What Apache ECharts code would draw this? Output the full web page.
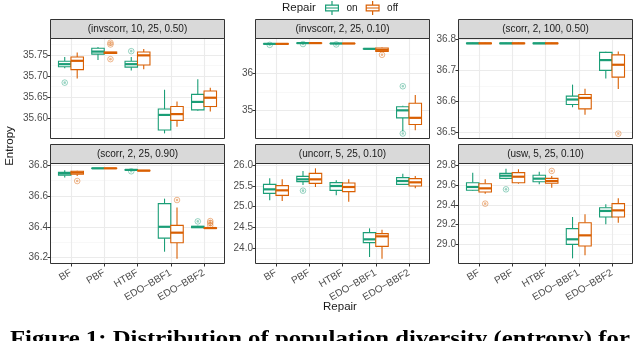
<!DOCTYPE html>
<html>
<head>
<meta charset="utf-8">
<script src="https://cdn.jsdelivr.net/npm/echarts@6/dist/echarts.min.js"></script>
<style>
html, body { margin: 0; padding: 0; background: #fff; }
#chart { width: 640px; height: 341px; }
</style>
</head>
<body>
<div id="chart"></div>
<script>
const categories = ['BF', 'PBF', 'HTBF', 'EDO−BBF1', 'EDO−BBF2']
const panelTitles = [
  '(invscorr, 10, 25, 0.50)', '(invscorr, 2, 25, 0.10)', '(scorr, 2, 100, 0.50)',
  '(scorr, 2, 25, 0.90)', '(uncorr, 5, 25, 0.10)', '(usw, 5, 25, 0.10)'
]

// box rows: [low whisker, q1, median, q3, high whisker], one per category
// outliers: [category index, value]
const p1On = [[35.718, 35.722, 35.728, 35.735, 35.745], [35.738, 35.752, 35.758, 35.766, 35.769], [35.713, 35.721, 35.728, 35.735, 35.745], [35.563, 35.571, 35.607, 35.621, 35.667], [35.617, 35.619, 35.638, 35.656, 35.692]]
const p1Off = [[35.694, 35.715, 35.736, 35.745, 35.756], [35.7535, 35.7535, 35.755, 35.757, 35.757], [35.716, 35.726, 35.749, 35.757, 35.764], [35.579, 35.594, 35.609, 35.627, 35.639], [35.615, 35.627, 35.648, 35.664, 35.672]]
const p1OutOn = [[0, 35.684], [2, 35.759]]
const p1OutOff = [[1, 35.779], [1, 35.775], [1, 35.740]]

const p2On = [[36.786, 36.787, 36.790, 36.792, 36.793], [36.806, 36.807, 36.810, 36.812, 36.813], [36.796, 36.797, 36.800, 36.802, 36.803], [36.653, 36.654, 36.657, 36.659, 36.660], [34.45, 34.81, 35.01, 35.106, 35.13]]
const p2Off = [[36.786, 36.787, 36.790, 36.792, 36.793], [36.806, 36.807, 36.810, 36.812, 36.813], [36.796, 36.797, 36.800, 36.802, 36.803], [36.58, 36.59, 36.63, 36.68, 36.69], [34.48, 34.63, 34.81, 35.20, 35.42]]
const p2OutOn = [[0, 36.763], [1, 36.785], [2, 36.775], [4, 35.655], [4, 34.39]]
const p2OutOff = [[3, 36.497]]

const p3On = [[36.786, 36.787, 36.788, 36.789, 36.790], [36.786, 36.787, 36.788, 36.789, 36.790], [36.786, 36.787, 36.788, 36.789, 36.790], [36.582, 36.591, 36.607, 36.618, 36.655], [36.675, 36.701, 36.734, 36.759, 36.761]]
const p3Off = [[36.786, 36.787, 36.788, 36.789, 36.790], [36.786, 36.787, 36.788, 36.789, 36.790], [36.786, 36.787, 36.788, 36.789, 36.790], [36.558, 36.577, 36.612, 36.623, 36.642], [36.641, 36.679, 36.719, 36.751, 36.762]]
const p3OutOn = []
const p3OutOff = [[4, 36.497]]

const p4On = [[36.718, 36.733, 36.744, 36.752, 36.765], [36.776, 36.777, 36.778, 36.779, 36.780], [36.765, 36.766, 36.768, 36.770, 36.771], [36.239, 36.327, 36.400, 36.550, 36.582], [36.392, 36.394, 36.399, 36.404, 36.407]]
const p4Off = [[36.729, 36.740, 36.750, 36.759, 36.763], [36.776, 36.777, 36.778, 36.779, 36.780], [36.761, 36.762, 36.763, 36.765, 36.766], [36.194, 36.297, 36.362, 36.409, 36.524], [36.388, 36.389, 36.392, 36.394, 36.396]]
const p4OutOn = [[2, 36.759], [4, 36.435]]
const p4OutOff = [[0, 36.696], [3, 36.573], [4, 36.437], [4, 36.425], [4, 36.410]]

const p5On = [[25.152, 25.32, 25.416, 25.536, 25.68], [25.52, 25.60, 25.656, 25.728, 25.856], [25.272, 25.392, 25.496, 25.576, 25.632], [23.792, 24.136, 24.216, 24.376, 24.48], [25.52, 25.536, 25.616, 25.696, 25.792]]
const p5Off = [[25.136, 25.272, 25.392, 25.504, 25.656], [25.472, 25.56, 25.656, 25.80, 25.92], [25.12, 25.36, 25.472, 25.568, 25.656], [23.752, 24.048, 24.288, 24.352, 24.448], [25.44, 25.496, 25.584, 25.672, 25.736]]
const p5OutOn = [[1, 25.384]]
const p5OutOff = []

const p6On = [[29.54, 29.547, 29.581, 29.624, 29.726], [29.658, 29.668, 29.695, 29.719, 29.766], [29.608, 29.634, 29.665, 29.70, 29.736], [28.858, 29.0, 29.051, 29.159, 29.277], [29.203, 29.277, 29.338, 29.371, 29.405]]
const p6Off = [[29.513, 29.53, 29.567, 29.614, 29.658], [29.614, 29.624, 29.685, 29.726, 29.76], [29.574, 29.618, 29.641, 29.668, 29.692], [28.889, 28.983, 29.091, 29.219, 29.304], [29.219, 29.277, 29.344, 29.412, 29.466]]
const p6OutOn = [[1, 29.557]]
const p6OutOff = [[0, 29.412], [2, 29.743]]

// y ranges and tick labels per panel
const yRanges = [[35.552, 35.788], [34.27, 36.92], [36.483, 36.802], [36.166, 36.806], [23.648, 26.024], [28.811, 29.8135]]
const yTicks = [[35.60, 35.65, 35.70, 35.75], [35, 36], [36.5, 36.6, 36.7, 36.8], [36.2, 36.4, 36.6, 36.8], [24.0, 24.5, 25.0, 25.5, 26.0], [29.0, 29.2, 29.4, 29.6, 29.8]]
const yMinor = [[35.575, 35.625, 35.675, 35.725, 35.775], [34.5, 35.5, 36.5], [36.55, 36.65, 36.75], [36.3, 36.5, 36.7], [23.75, 24.25, 24.75, 25.25, 25.75], [28.9, 29.1, 29.3, 29.5, 29.7]]
const yDecimals = [2, 0, 1, 1, 1, 1]

const onColor = '#1B9E77'
const offColor = '#D95F02'
const font = '"Liberation Sans", Arial, sans-serif'

const panels = [
  [p1On, p1Off, p1OutOn, p1OutOff], [p2On, p2Off, p2OutOn, p2OutOff], [p3On, p3Off, p3OutOn, p3OutOff],
  [p4On, p4Off, p4OutOn, p4OutOff], [p5On, p5Off, p5OutOn, p5OutOff], [p6On, p6Off, p6OutOn, p6OutOff]
]

// panel layout
const colX = [51, 256, 459]
const rowY = [39, 164]
const panelW = 173
const panelH = 99
const stripH = 19
const boxW = 0.375

function boxRender(dodge, color) {
  return function (params, api) {
    const x = api.value(0) + dodge
    const half = api.size([boxW / 2, 0])[0]
    const lo = api.coord([x, api.value(1)])
    const q1 = api.coord([x, api.value(2)])
    const med = api.coord([x, api.value(3)])
    const q3 = api.coord([x, api.value(4)])
    const hi = api.coord([x, api.value(5)])
    const cx = med[0]
    return {
      type: 'group',
      children: [
        { type: 'line', shape: { x1: cx, y1: hi[1], x2: cx, y2: q3[1] }, style: { stroke: color, lineWidth: 1.1 } },
        { type: 'line', shape: { x1: cx, y1: q1[1], x2: cx, y2: lo[1] }, style: { stroke: color, lineWidth: 1.1 } },
        { type: 'rect', shape: { x: cx - half, y: q3[1], width: half * 2, height: q1[1] - q3[1] }, style: { fill: '#fff', stroke: color, lineWidth: 1.1 } },
        { type: 'line', shape: { x1: cx - half, y1: med[1], x2: cx + half, y2: med[1] }, style: { stroke: color, lineWidth: 2.2 } }
      ]
    }
  }
}

function outlierRender(dodge, color) {
  return function (params, api) {
    const p = api.coord([api.value(0) + dodge, api.value(1)])
    return {
      type: 'group',
      children: [
        { type: 'circle', shape: { cx: p[0], cy: p[1], r: 2.8 }, style: { fill: 'none', stroke: color, lineWidth: 1, opacity: 0.45 } },
        { type: 'circle', shape: { cx: p[0], cy: p[1], r: 1.3 }, style: { fill: color, opacity: 0.45 } }
      ]
    }
  }
}

const grids = [], xAxes = [], yAxes = [], series = [], graphics = []

panels.forEach(function (pan, i) {
  const left = colX[i % 3]
  const top = rowY[Math.floor(i / 3)]
  const bottomRow = i >= 3
  grids.push({ left: left, top: top, width: panelW, height: panelH, show: false, outerBoundsMode: 'none' })

  xAxes.push({
    type: 'value', gridIndex: i, min: 0.4, max: 5.6,
    axisLine: { show: false },
    axisTick: { show: bottomRow, customValues: [1, 2, 3, 4, 5], length: 3.5, lineStyle: { color: '#333', width: 1 } },
    axisLabel: {
      show: bottomRow, customValues: [1, 2, 3, 4, 5], rotate: 30, margin: 9,
      fontSize: 10, color: '#4D4D4D', fontFamily: font,
      formatter: function (v) { return categories[Math.round(v) - 1] }
    },
    splitLine: { show: true, lineStyle: { color: '#EBEBEB', width: 1.1 } }
  })

  yAxes.push({
    type: 'value', gridIndex: i, min: yRanges[i][0], max: yRanges[i][1], position: 'left',
    axisLine: { show: false },
    axisTick: { show: true, customValues: yTicks[i], length: 3.5, lineStyle: { color: '#333', width: 1 } },
    axisLabel: {
      customValues: yTicks[i], margin: 3, fontSize: 10, color: '#4D4D4D', fontFamily: font,
      formatter: function (v) { return v.toFixed(yDecimals[i]) }
    },
    splitLine: { show: true, lineStyle: { color: '#EBEBEB', width: 1.1 } }
  })

  const on = pan[0], off = pan[1], outOn = pan[2], outOff = pan[3]
  const toBox = rows => rows.map((r, k) => [k + 1].concat(r))
  const toOut = rows => rows.map(r => [r[0] + 1, r[1]])

  series.push(
    { name: 'on', type: 'custom', xAxisIndex: i, yAxisIndex: i, itemStyle: { color: onColor }, renderItem: boxRender(-boxW / 2, onColor), encode: { x: 0, y: [1, 2, 3, 4, 5] }, data: toBox(on), z: 3 },
    { name: 'off', type: 'custom', xAxisIndex: i, yAxisIndex: i, itemStyle: { color: offColor }, renderItem: boxRender(boxW / 2, offColor), encode: { x: 0, y: [1, 2, 3, 4, 5] }, data: toBox(off), z: 3 },
    { name: 'on', type: 'custom', xAxisIndex: i, yAxisIndex: i, itemStyle: { color: onColor }, renderItem: outlierRender(-boxW / 2, onColor), encode: { x: 0, y: 1 }, data: toOut(outOn), z: 4 },
    { name: 'off', type: 'custom', xAxisIndex: i, yAxisIndex: i, itemStyle: { color: offColor }, renderItem: outlierRender(boxW / 2, offColor), encode: { x: 0, y: 1 }, data: toOut(outOff), z: 4 }
  )

  // strip and border
  graphics.push({
    type: 'rect', shape: { x: left - 0.5, y: top - stripH - 0.5, width: panelW + 1, height: stripH },
    style: { fill: '#D9D9D9', stroke: '#333', lineWidth: 1 }, z: 10
  })
  graphics.push({
    type: 'text', x: left + panelW / 2, y: top - stripH / 2 - 0.5,
    style: { text: panelTitles[i], fill: '#1A1A1A', font: '10px ' + font, textAlign: 'center', textVerticalAlign: 'middle' }, z: 11
  })
  graphics.push({
    type: 'rect', shape: { x: left - 0.5, y: top - 0.5, width: panelW + 1, height: panelH + 1 },
    style: { fill: 'none', stroke: '#333', lineWidth: 1 }, z: 10
  })
})

// minor grid lines, one hidden axis per panel
panels.forEach(function (pan, i) {
  yAxes.push({
    type: 'value', gridIndex: i, min: yRanges[i][0], max: yRanges[i][1], position: 'right',
    axisLine: { show: false },
    axisTick: { show: false, customValues: yMinor[i] },
    axisLabel: { show: false, customValues: yMinor[i] },
    splitLine: { show: true, lineStyle: { color: '#F3F3F3', width: 0.6 } }
  })
})

graphics.push(
  { type: 'text', x: 282, y: 8, style: { text: 'Repair', fill: '#1A1A1A', font: '11.5px ' + font, textVerticalAlign: 'middle' } },
  { type: 'text', x: 340, y: 307, style: { text: 'Repair', fill: '#1A1A1A', font: '11.5px ' + font, textAlign: 'center', textVerticalAlign: 'middle' } },
  { type: 'text', x: 10, y: 146, rotation: Math.PI / 2, style: { text: 'Entropy', fill: '#1A1A1A', font: '11.5px ' + font, textAlign: 'center', textVerticalAlign: 'middle' } },
  { type: 'text', x: 10, y: 350, scaleX: 1.125, style: { text: 'Figure 1: Distribution of population diversity (entropy) for', fill: '#000', font: 'bold 22px "Liberation Serif", serif', textVerticalAlign: 'bottom' } }
)

const keyIcon = 'path://M0.5,3.5 H14.5 V10.5 H0.5 Z M1.7,4.7 V9.3 H13.3 V4.7 Z M0.5,6.4 H14.5 V7.6 H0.5 Z M6.9,0 H8.1 V3.5 H6.9 Z M6.9,10.5 H8.1 V14 H6.9 Z'

const chart = echarts.init(document.getElementById('chart'))
chart.setOption({
  animation: false,
  backgroundColor: '#fff',
  legend: {
    data: [{ name: 'on', icon: keyIcon }, { name: 'off', icon: keyIcon }],
    left: 325, top: 1, padding: 0, itemWidth: 15, itemHeight: 14, itemGap: 8,
    itemStyle: { borderWidth: 0 },
    textStyle: { fontSize: 10, color: '#1A1A1A', fontFamily: font, padding: [0, 0, 0, 2] }
  },
  grid: grids,
  xAxis: xAxes,
  yAxis: yAxes,
  series: series,
  graphic: graphics
})
</script>
</body>
</html>
